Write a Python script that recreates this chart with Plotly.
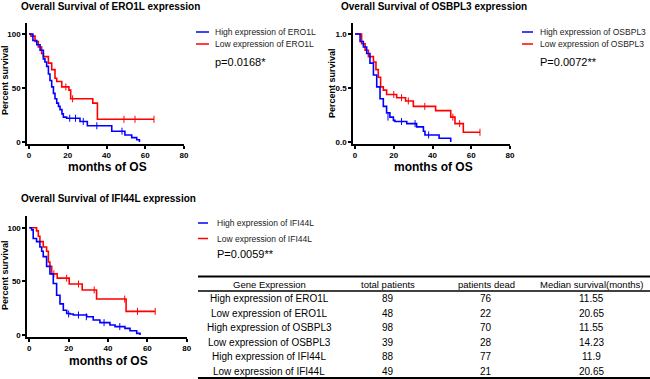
import plotly.graph_objects as go

W, H = 650, 379
FONT = "Liberation Sans, Arial, sans-serif"

# ---------------- data ----------------
ero1l_high_t = [0, 2, 4, 5.7, 7.4, 8.2, 9.1, 10, 10.8, 11.7, 12.6, 13.4, 14.3, 15.2, 16, 17, 17.7, 19.4, 26.3, 30.1, 42.7, 49.5, 53, 55.6, 57]
ero1l_high_s = [100, 94, 90, 85, 77, 74, 70, 63, 57, 51, 45, 40, 36, 33, 30, 26, 23, 22, 19, 15, 10, 6.5, 4, 2, 0]
ero1l_low_t = [0, 1, 3.1, 4.8, 6.5, 7.4, 10, 11.7, 13.4, 14.3, 16.9, 20.6, 21.5, 32.9, 35.3, 64.5]
ero1l_low_s = [100, 98, 93, 88, 82, 79, 73, 67, 59, 56, 51, 48, 40, 36, 21, 21]
ero1l_high_cens_t = [21, 24, 28, 35, 48]
ero1l_high_cens_s = [22, 22, 19, 15, 10]
ero1l_low_cens_t = [19, 22.5, 49, 54.7, 64.5]
ero1l_low_cens_s = [51, 40, 21, 21, 21]

osbpl3_high_t = [0, 2.6, 4.3, 6, 7.7, 9.5, 11.2, 12.9, 14.6, 16.3, 18, 19.8, 20.6, 26.7, 31.8, 35.3, 36.1, 43.4, 49.4]
osbpl3_high_s = [1.0, .93, .88, .82, .73, .62, .51, .40, .33, .27, .23, .20, .19, .17, .14, .10, .065, .035, 0]
osbpl3_low_t = [0, 3.4, 5.2, 6.9, 9.5, 10.8, 12, 13.2, 14.6, 16.3, 21.5, 26.1, 30.1, 41.6, 49.4, 51.6, 55.9, 64.5]
osbpl3_low_s = [1.0, .91, .85, .79, .74, .67, .60, .51, .48, .44, .41, .38, .33, .29, .23, .17, .09, .09]
osbpl3_high_cens_t = [17, 24, 31, 38]
osbpl3_high_cens_s = [.23, .19, .17, .065]
osbpl3_low_cens_t = [20, 24, 27.5, 36, 50.5, 54, 64.5]
osbpl3_low_cens_s = [.44, .41, .38, .33, .23, .17, .09]

ifi44l_high_t = [0, 1.2, 2, 3.7, 5.4, 6.3, 7.1, 8.8, 10.5, 12.2, 13.9, 15.6, 17.3, 19, 20.7, 22.4, 29.2, 32.5, 35.9, 41, 43.6, 48.6, 51.2, 54.6, 56.3]
ifi44l_high_s = [100, 98, 90, 87, 82, 78, 73, 64, 57, 48, 37, 29, 23, 20, 19.6, 18.6, 17, 14, 11.5, 9.3, 7.8, 6.2, 4, 1.5, 0]
ifi44l_low_t = [0, 2.9, 3.7, 4.6, 5.4, 7.1, 8.8, 9.7, 10.5, 11.4, 14.2, 20.3, 26.9, 34.2, 49.2, 64]
ifi44l_low_s = [100, 100, 97, 92, 87, 82, 78, 68, 64, 57, 53, 47.5, 42, 33.5, 22, 22]
ifi44l_high_cens_t = [20, 25, 29, 38, 46]
ifi44l_high_cens_s = [19.6, 18.6, 17, 11.5, 7.8]
ifi44l_low_cens_t = [12.5, 19, 25, 33, 48.5, 55, 64]
ifi44l_low_cens_s = [57, 53, 47.5, 42, 33.5, 22, 22]

genes = ["ERO1L", "OSBPL3", "IFI44L"]
p_values = ["p=0.0168*", "P=0.0072**", "P=0.0059**"]

table_header = ["Gene Expression", "total patients", "patients dead", "Median survival(months)"]
table_groups = ["High expression of ERO1L", "Low expression of ERO1L",
                "High expression of OSBPL3", "Low expression of OSBPL3",
                "High expression of IFI44L", "Low expression of IFI44L"]
table_total = [89, 48, 98, 39, 88, 49]
table_dead = [76, 22, 70, 28, 77, 21]
table_median = ["11.55", "20.65", "11.55", "14.23", "11.9", "20.65"]

BLUE = "#0000FF"
RED = "#FF0000"

def px(x):
    return x / W

def py(y):
    return 1 - y / H

fig = go.Figure()

panels = [
    dict(ax="", t_hi=ero1l_high_t, s_hi=ero1l_high_s, t_lo=ero1l_low_t, s_lo=ero1l_low_s,
         c_hi=(ero1l_high_cens_t, ero1l_high_cens_s), c_lo=(ero1l_low_cens_t, ero1l_low_cens_s)),
    dict(ax="2", t_hi=osbpl3_high_t, s_hi=osbpl3_high_s, t_lo=osbpl3_low_t, s_lo=osbpl3_low_s,
         c_hi=(osbpl3_high_cens_t, osbpl3_high_cens_s), c_lo=(osbpl3_low_cens_t, osbpl3_low_cens_s)),
    dict(ax="3", t_hi=ifi44l_high_t, s_hi=ifi44l_high_s, t_lo=ifi44l_low_t, s_lo=ifi44l_low_s,
         c_hi=(ifi44l_high_cens_t, ifi44l_high_cens_s), c_lo=(ifi44l_low_cens_t, ifi44l_low_cens_s)),
]

for i, p in enumerate(panels):
    xa, ya = "x" + p["ax"], "y" + p["ax"]
    for t, s, col, cens, nm in [(p["t_lo"], p["s_lo"], RED, p["c_lo"], "Low"),
                                (p["t_hi"], p["s_hi"], BLUE, p["c_hi"], "High")]:
        fig.add_trace(go.Scatter(x=t, y=s, mode="lines", line=dict(color=col, width=1.6, shape="hv"),
                                 xaxis=xa, yaxis=ya, showlegend=False,
                                 name=f"{nm} expression of {genes[i]}"))
        fig.add_trace(go.Scatter(x=cens[0], y=cens[1], mode="markers",
                                 marker=dict(symbol="line-ns", size=5, line=dict(color=col, width=1)),
                                 xaxis=xa, yaxis=ya, showlegend=False, hoverinfo="skip"))

axis_common = dict(showline=True, linecolor="black", linewidth=1.8, ticks="outside", ticklen=3,
                   tickwidth=1.5, tickcolor="black", showgrid=False, zeroline=False, automargin=False,
                   tickfont=dict(family=FONT, size=8, color="black", weight="bold"))

fig.update_layout(
    xaxis=dict(domain=[27.1 / W, 184 / W], range=[-1, 80], tickvals=[0, 20, 40, 60, 80],
               anchor="y", **axis_common),
    yaxis=dict(domain=[py(143.6), py(23.2)], range=[-1.5, 110], tickvals=[0, 50, 100],
               anchor="x", **axis_common),
    xaxis2=dict(domain=[353.1 / W, 510 / W], range=[-1, 80], tickvals=[0, 20, 40, 60, 80],
                anchor="y2", **axis_common),
    yaxis2=dict(domain=[py(143.6), py(23.2)], range=[-0.015, 1.10], tickvals=[0, 0.5, 1.0],
                ticktext=["0.0", "0.5", "1.0"], anchor="x2", **axis_common),
    xaxis3=dict(domain=[27.3 / W, 186.7 / W], range=[-1, 80], tickvals=[0, 20, 40, 60, 80],
                anchor="y3", **axis_common),
    yaxis3=dict(domain=[py(336.6), py(215.9)], range=[-1.5, 111], tickvals=[0, 50, 100],
                anchor="x3", **axis_common),
)

annotations = []
shapes = []

titles_pos = [(19, 6), (339, 6), (19, 198)]
ylab_pos = [(5, 80), (332, 83), (5, 275)]
xlab_pos = [(107, 167), (433, 167), (108, 361)]
leg_pos = [(196, 209, 213, 32, 44, 62), (522, 533, 538, 32, 44, 62), (198, 208, 215, 223, 238.5, 254)]

for i, g in enumerate(genes):
    tx, ty = titles_pos[i]
    annotations.append(dict(x=px(tx), y=py(ty), xref="paper", yref="paper", xanchor="left", yanchor="middle",
                            text=f"<b>Overall Survival of {g} expression</b>", showarrow=False,
                            font=dict(family=FONT, size=10, color="black")))
    lx, ly = ylab_pos[i]
    annotations.append(dict(x=px(lx), y=py(ly), xref="paper", yref="paper", xanchor="center", yanchor="middle",
                            text="<b>Percent survival</b>", textangle=-90, showarrow=False, borderpad=0,
                            font=dict(family=FONT, size=9, color="black")))
    mx, my = xlab_pos[i]
    annotations.append(dict(x=px(mx), y=py(my), xref="paper", yref="paper", xanchor="center", yanchor="middle",
                            text="<b>months of OS</b>", showarrow=False,
                            font=dict(family=FONT, size=12, color="black")))
    x0, x1, xt, y1, y2, yp = leg_pos[i]
    for yy, col, lab in [(y1, BLUE, f"High expression of {g}"), (y2, RED, f"Low expression of {g}")]:
        shapes.append(dict(type="line", xref="paper", yref="paper", x0=px(x0), x1=px(x1), y0=py(yy), y1=py(yy),
                           line=dict(color=col, width=1.5)))
        annotations.append(dict(x=px(xt), y=py(yy), xref="paper", yref="paper", xanchor="left", yanchor="middle",
                                text=lab, showarrow=False, font=dict(family=FONT, size=8.5, color="#222")))
    annotations.append(dict(x=px(xt), y=py(yp), xref="paper", yref="paper", xanchor="left", yanchor="middle",
                            text=p_values[i], showarrow=False, font=dict(family=FONT, size=11, color="black")))

# table
col_x = [269, 388, 486, 591]
header_y = 284
row_y = [298, 313, 327, 342, 356, 371]
for j, h in enumerate(table_header):
    annotations.append(dict(x=px(col_x[j]), y=py(header_y), xref="paper", yref="paper", xanchor="center",
                            yanchor="middle", text=h, showarrow=False,
                            font=dict(family=FONT, size=9.5, color="black")))
for r in range(len(table_groups)):
    vals = [table_groups[r], str(table_total[r]), str(table_dead[r]), table_median[r]]
    for j, v in enumerate(vals):
        annotations.append(dict(x=px(col_x[j]), y=py(row_y[r]), xref="paper", yref="paper", xanchor="center",
                                yanchor="middle", text=v, showarrow=False,
                                font=dict(family=FONT, size=10, color="black")))
for yy, lw in [(276.5, 2), (291, 1.5), (378, 2)]:
    shapes.append(dict(type="line", xref="paper", yref="paper", x0=px(198), x1=px(650), y0=py(yy), y1=py(yy),
                       line=dict(color="black", width=lw)))

fig.update_layout(width=W, height=H, margin=dict(l=0, r=0, t=0, b=0, autoexpand=False),
                  paper_bgcolor="white", plot_bgcolor="white",
                  annotations=annotations, shapes=shapes, showlegend=False)

fig.write_html("out.html", config={"displayModeBar": False},
               post_script="document.body.style.margin='0';document.body.style.overflow='hidden';")
